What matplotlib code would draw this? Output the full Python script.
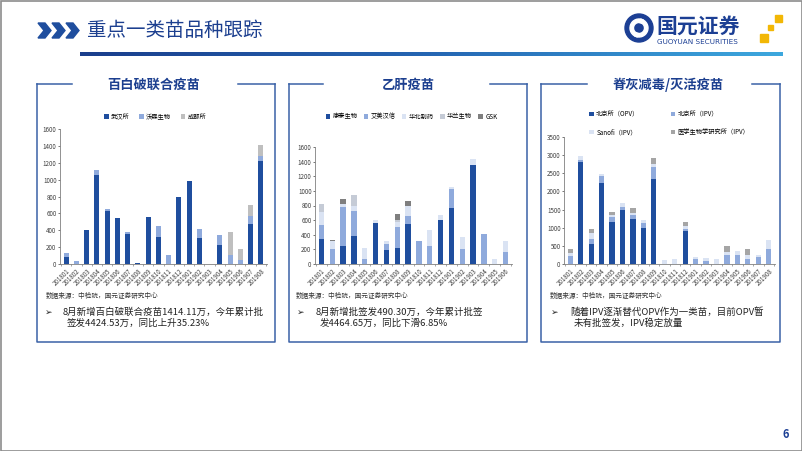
import numpy as np
import matplotlib.pyplot as plt
from matplotlib.patches import Polygon, Rectangle, Circle, Wedge
from matplotlib.colors import LinearSegmentedColormap

plt.rcParams['font.family'] = ['Noto Sans CJK SC', 'DejaVu Sans']

W, H = 802, 451

# ---- data ----
months_a = ['201801', '201802', '201803', '201804', '201805', '201806', '201807',
            '201808', '201809', '201810', '201811', '201812', '201901', '201902',
            '201903', '201904', '201905', '201906', '201907', '201908']
months_b = months_a[:18]

# 百白破联合疫苗
wuhan = [80, 0, 400, 1050, 625, 550, 350, 10, 555, 315, 0, 790, 985, 310, 0, 230, 0, 0, 480, 1215]
walvax = [55, 35, 0, 70, 25, 0, 30, 0, 0, 135, 105, 0, 0, 110, 0, 115, 110, 50, 90, 65]
chengdu = [0, 0, 0, 0, 0, 0, 0, 0, 0, 0, 0, 0, 0, 0, 0, 0, 270, 130, 130, 134]

# 乙肝疫苗
kangtai = [345, 0, 240, 380, 0, 560, 190, 215, 545, 0, 0, 600, 770, 0, 1360, 0, 0, 0]
aimei = [195, 200, 540, 340, 65, 0, 90, 285, 110, 315, 240, 0, 250, 210, 0, 405, 0, 165]
huabei = [170, 110, 40, 80, 150, 40, 40, 80, 135, 0, 220, 65, 30, 155, 80, 0, 75, 155]
hualan = [105, 0, 0, 140, 0, 0, 0, 20, 0, 0, 0, 0, 0, 0, 0, 0, 0, 0]
gsk = [0, 15, 70, 0, 0, 0, 0, 90, 70, 0, 0, 0, 0, 0, 0, 0, 0, 0]

# 脊灰减毒/灭活疫苗
bj_opv = [0, 2800, 560, 2220, 1150, 1480, 1240, 1000, 2330, 0, 0, 920, 0, 0, 0, 0, 0, 0, 0, 0]
bj_ipv = [230, 70, 120, 210, 150, 100, 110, 130, 350, 0, 0, 50, 150, 70, 0, 250, 250, 130, 190, 420]
sanofi = [80, 100, 180, 50, 40, 100, 50, 90, 70, 120, 150, 70, 30, 90, 130, 80, 120, 130, 70, 230]
ims = [100, 0, 110, 0, 90, 0, 130, 0, 180, 0, 0, 130, 20, 0, 0, 170, 0, 140, 0, 0]

DARK = '#1F4E9E'
MID = '#8FAADC'
VLIGHT = '#DAE3F3'
GRAY = '#BFBFBF'
NAVY = '#1C3F8F'
BOX = '#3A62A7'

fig = plt.figure(figsize=(W / 100, H / 100), dpi=100)

# overlay in pixel coordinates for the slide decorations
ov = fig.add_axes([0, 0, 1, 1])
grad = np.linspace(0, 1, 256).reshape(1, -1)
cmap = LinearSegmentedColormap.from_list('g', ['#1A3E8C', '#2566B3', '#3DA8DE'])
ov.imshow(grad, extent=(80, 783, 56.5, 52.5), aspect='auto', cmap=cmap)
ov.set_xlim(0, W)
ov.set_ylim(H, 0)
ov.axis('off')

# slide frame
ov.add_patch(Rectangle((0.5, 0.5), W - 1, H - 1, fill=False, ec='#8C8C8C', lw=1.2))

# chevrons
for x0 in (38, 52, 66):
    ov.add_patch(Polygon([(x0, 23), (x0 + 7, 23), (x0 + 13, 30.5), (x0 + 7, 38),
                          (x0, 38), (x0 + 6, 30.5)], closed=True, color='#1F4E9E'))
ov.text(87, 31, '重点一类苗品种跟踪', fontsize=14, color=NAVY, va='center', ha='left')

# logo
ov.add_patch(Circle((639, 28), 14, color='#1C3F94'))
ov.add_patch(Wedge((639, 28), 9, 100, 300, width=3.5, color='white'))
ov.add_patch(Wedge((639, 28), 9, 280, 480, width=3.5, color='white'))
ov.text(656, 26, '国元证券', fontsize=15, fontweight='bold', color='#1C3F94', va='center', ha='left')
ov.text(657, 41.5, 'GUOYUAN SECURITIES', fontsize=5.2, color='#1C3F94', va='center', ha='left',
        family='DejaVu Sans')
for (sx, sy, s) in [(775, 15, 7), (768, 25, 5), (760, 34, 8)]:
    ov.add_patch(Rectangle((sx, sy), s, s, color='#F2B705'))

ov.text(786, 434, '6', fontsize=8, color='#1C3F94', fontweight='bold', ha='center', va='center')


def panel(x0, x1, gap0, gap1, title, tcx):
    top, bot = 84, 342
    ov.plot([x0, gap0], [top, top], color=BOX, lw=1.1)
    ov.plot([gap1, x1], [top, top], color=BOX, lw=1.1)
    ov.plot([x0, x0, x1, x1], [top, bot, bot, top], color=BOX, lw=1.1)
    ov.text(tcx, 85, title, fontsize=9.5, fontweight='bold', color=NAVY, ha='center', va='center')


panel(37, 275, 72, 238, '百白破联合疫苗', 154)
panel(289, 527, 323, 490, '乙肝疫苗', 408)
panel(541, 780, 587, 752, '脊灰减毒/灭活疫苗', 668)

src = '数据来源：中检院，国元证券研究中心'
ov.text(46, 296, src, fontsize=4.8, color='#333333', va='center')
ov.text(296, 296, src, fontsize=4.8, color='#333333', va='center')
ov.text(550, 296, src, fontsize=4.8, color='#333333', va='center')

bullets = [
    (45, 63, '8月新增百白破联合疫苗1414.11万，今年累计批', '签发4424.53万，同比上升35.23%'),
    (297, 316, '8月新增批签发490.30万，今年累计批签', '发4464.65万，同比下滑6.85%'),
    (551, 570, '随着IPV逐渐替代OPV作为一类苗，目前OPV暂', '未有批签发，IPV稳定放量'),
]
for bx, tx, l1, l2 in bullets:
    ov.text(bx, 312, '➢', fontsize=6.5, color='#222222', va='center', family=['DejaVu Sans'])
    ov.text(tx, 312, l1, fontsize=6.8, color='#222222', va='center')
    ov.text(tx + 4, 323.5, l2, fontsize=6.8, color='#222222', va='center')


def make_ax(x0, y0, x1, y1):
    ax = fig.add_axes([x0 / W, 1 - y1 / H, (x1 - x0) / W, (y1 - y0) / H])
    ax.set_facecolor('none')
    return ax


def stacked(ax, months, series, colors, labels, ymax, ystep):
    x = np.arange(len(months))
    bottom = np.zeros(len(months))
    for vals, c, lab in zip(series, colors, labels):
        vals = np.array(vals, dtype=float)
        ax.bar(x, vals, 0.5, bottom=bottom, color=c, label=lab)
        bottom += vals
    ax.set_xlim(-0.6, len(months) - 0.4)
    ax.set_ylim(0, ymax)
    ax.set_yticks(np.arange(0, ymax + 1, ystep))
    ax.set_xticks(x)
    ax.set_xticklabels(months, rotation=45, ha='right', rotation_mode='anchor', fontsize=4.5,
                       color='#404040')
    ax.set_xticks(np.arange(len(months) + 1) - 0.5, minor=True)
    ax.tick_params(axis='x', which='major', length=0, pad=2)
    ax.tick_params(axis='x', which='minor', length=1.5, width=0.5, color='#808080')
    ax.tick_params(axis='y', labelsize=4.5, length=1.5, width=0.5, pad=1, colors='#404040')
    for s in ('top', 'right'):
        ax.spines[s].set_visible(False)
    for s in ('left', 'bottom'):
        ax.spines[s].set_color('#808080')
        ax.spines[s].set_linewidth(0.6)


leg_kw = dict(frameon=False, fontsize=4.5, handlelength=0.7, handleheight=0.7,
              handletextpad=0.4, borderaxespad=0)

ax1 = make_ax(60, 129, 267, 264)
stacked(ax1, months_a, [wuhan, walvax, chengdu], [DARK, MID, GRAY],
        ['武汉所', '沃森生物', '成都所'], 1600, 200)
ax1.legend(loc='center', bbox_to_anchor=(0.46, 1.09), ncol=3, columnspacing=1.5, **leg_kw)

ax2 = make_ax(315, 147, 512, 264)
stacked(ax2, months_b, [kangtai, aimei, huabei, hualan, gsk], [DARK, MID, VLIGHT, '#C5CBD6', '#7F7F7F'],
        ['康泰生物', '艾美汉信', '华北制药', '华兰生物', 'GSK'], 1600, 200)
ax2.legend(loc='center', bbox_to_anchor=(0.49, 1.26), ncol=5, columnspacing=1.0, **leg_kw)

ax3 = make_ax(564, 137, 775, 264)
stacked(ax3, months_a, [bj_opv, bj_ipv, sanofi, ims], [DARK, MID, VLIGHT, '#A5A5A5'],
        ['北京所（OPV）', '北京所（IPV）', 'Sanofi（IPV）', '医学生物学研究所（IPV）'], 3500, 500)
h3, l3 = ax3.get_legend_handles_labels()
order = [0, 2, 1, 3]
ax3.legend([h3[i] for i in order], [l3[i] for i in order], loc='center',
           bbox_to_anchor=(0.50, 1.11), ncol=2, columnspacing=5.0, labelspacing=1.6, **leg_kw)

fig.savefig('out.png', dpi=100)
